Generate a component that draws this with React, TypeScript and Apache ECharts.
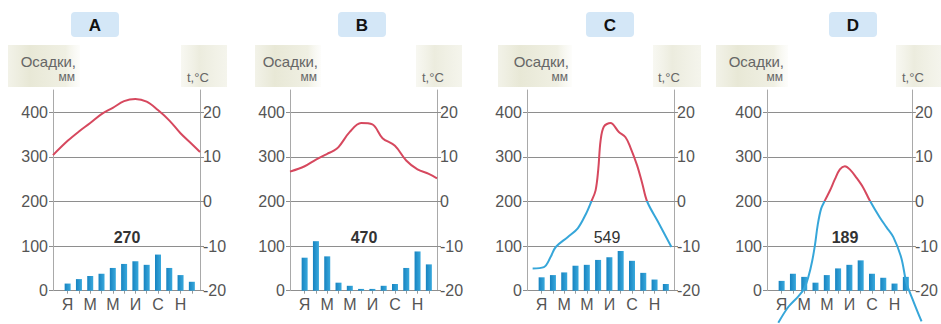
import React, { useEffect, useRef } from "react";
import * as echarts from "echarts";

// ---------- data ----------
const MONTHS = ["Я", "Ф", "М", "А", "М", "И", "И", "А", "С", "О", "Н", "Д"];
const PANEL_NAMES = ["A", "B", "C", "D"];
const TOTALS = ["270", "470", "549", "189"];
const MM_TICKS = [0, 100, 200, 300, 400];
const TEMP_TICKS = [-20, -10, 0, 10, 20];

const PRECIP_A = [16, 26, 33, 38, 51, 60, 66, 58, 81, 51, 35, 20];
const PRECIP_B = [74, 111, 77, 18, 11, 4, 4, 11, 15, 51, 88, 59];
const PRECIP_C = [30, 35, 41, 56, 58, 69, 75, 89, 67, 40, 25, 15];
const PRECIP_D = [22, 38, 31, 18, 35, 50, 58, 68, 38, 29, 16, 31];

// [month position, °C]
const TEMP_A = [
  [-0.3, 10.4], [1, 13.6], [2, 15.7], [3, 17.6], [4, 19.6], [5, 21.0], [6, 22.5],
  [7, 23.0], [8, 22.4], [9, 20.5], [10, 18.2], [11, 15.3], [12, 12.9], [12.73, 11.1],
];
const TEMP_B = [
  [-0.3, 6.7], [1, 7.9], [2, 9.4], [3, 10.7], [3.5, 11.3], [4, 12.2], [5, 15.6], [6, 17.6],
  [7, 17.3], [7.9, 14.2], [9, 12.5], [10, 9.2], [11, 7.2], [12, 6.2], [12.73, 5.2],
];
const TEMP_C = [
  [0.2, -15.0], [1.2, -14.7], [1.8, -12.4], [2.25, -10.2], [3.3, -8.0], [4.2, -6.0],
  [4.9, -2.9], [5.4, 0], [5.78, 2.5], [6.02, 7.3], [6.22, 13.6], [6.52, 16.8], [7.1, 17.6],
  [7.84, 15.6], [8.43, 14.4], [8.87, 12.1], [9.46, 8.1], [9.91, 4.1], [10.35, 0],
  [11.3, -4.5], [12.5, -10.2],
];
const TEMP_D = [
  [0.7, -27.2], [1.6, -23.6], [2.5, -21.2], [3.0, -19.5], [3.4, -16.6], [3.7, -13.4],
  [3.95, -9.8], [4.2, -5.2], [4.5, -1.6], [4.85, 0.3], [5.27, 2.4], [5.72, 5.0],
  [6.16, 7.2], [6.6, 7.9], [7.04, 7.2], [7.64, 5.3], [8.23, 3.1], [8.81, 0.2],
  [9.7, -3.6], [10.3, -5.8], [10.9, -8.0], [11.6, -12.6], [12.06, -18.2],
  [12.65, -22.2], [13.4, -26.9],
];

const PRECIP = [PRECIP_A, PRECIP_B, PRECIP_C, PRECIP_D];
const TEMPS = [TEMP_A, TEMP_B, TEMP_C, TEMP_D];

// ---------- layout ----------
const W = 941;
const H = 324;
const PLOT_LEFT = [53, 290, 527, 767];
const PLOT_W = 147;
const PLOT_TOP = 90;
const PLOT_H = 200.7;
const BAR_OFFSET = 9;
const BAR_W = 135.5;
const X_MIN = -0.3;
const X_MAX = 12.73;
const T_MIN = -20;
const T_MAX = 25;
// the temperature line lives in a slightly larger invisible grid (kept inside the canvas)
const LINE_EXTRA_W = 12;
const LINE_T_MIN = -27.4;
const TITLE_CX = [95, 362, 610, 853];
const TOTAL_CX = [127, 364, 607, 845];
const TOTAL_WEIGHT = ["bold", "bold", "normal", "bold"];
const PRECIP_LABEL_RIGHT = [76, 318, 569, 784];
const PRECIP_BOX = [[8, 72], [255, 66], [498, 74], [716, 72]];
const TEMP_LABEL_LEFT = [187, 422, 658, 902];
const TEMP_BOX = [[181, 46], [416, 46], [653, 48], [896, 45]];

const FONT = "'Liberation Sans', Arial, sans-serif";
const LABEL_COLOR = "#555";
const GRID_COLOR = "#8e8e8e";
const FRAME_COLOR = "#a9a9a9";
const RED = "#d6485e";
const BLUE_LINE = "#36a6d9";

function buildOption() {
  const grid: any[] = [];
  const xAxis: any[] = [];
  const yAxis: any[] = [];
  const series: any[] = [];
  const graphic: any[] = [];

  const tPerPx = (T_MAX - T_MIN) / PLOT_H;
  const lineH = (T_MAX - LINE_T_MIN) / tPerPx;
  const lineXMax = X_MIN + ((X_MAX - X_MIN) * (PLOT_W + LINE_EXTRA_W)) / PLOT_W;

  // pixel row of 0 °C, used for the two-colour line
  const zeroY = PLOT_TOP + T_MAX / tPerPx;
  const zeroOff = zeroY / H;
  const lineColor = new echarts.graphic.LinearGradient(
    0, 0, 0, H,
    [
      { offset: 0, color: RED },
      { offset: zeroOff, color: RED },
      { offset: zeroOff, color: BLUE_LINE },
      { offset: 1, color: BLUE_LINE },
    ],
    true
  );

  PLOT_LEFT.forEach((L, i) => {
    const g = 3 * i;
    grid.push({ left: L, top: PLOT_TOP, width: PLOT_W, height: PLOT_H });
    grid.push({ left: L + BAR_OFFSET, top: PLOT_TOP, width: BAR_W, height: PLOT_H });
    grid.push({ left: L, top: PLOT_TOP, width: PLOT_W + LINE_EXTRA_W, height: lineH });

    // x axes: frame grid (hidden), bar grid (months), line grid (hidden)
    xAxis.push({ type: "value", gridIndex: g, min: 0, max: 1, show: false });
    xAxis.push({
      type: "category", gridIndex: g + 1, data: MONTHS, boundaryGap: true,
      axisLine: { show: false },
      axisTick: { show: true, alignWithLabel: true, interval: 0, length: 3, lineStyle: { color: "#999" } },
      axisLabel: { interval: 1, color: LABEL_COLOR, fontSize: 16, fontFamily: FONT, margin: 6 },
    });
    xAxis.push({ type: "value", gridIndex: g + 2, min: X_MIN, max: lineXMax, show: false });

    // y axes: mm (left), °C (right), bar mm (hidden), line °C (hidden)
    yAxis.push({
      type: "value", gridIndex: g, position: "left", min: 0, max: 450, interval: 50,
      axisLine: { show: true, lineStyle: { color: FRAME_COLOR, width: 1 } },
      axisTick: { show: true, length: 4, customValues: MM_TICKS, lineStyle: { color: GRID_COLOR } },
      axisLabel: {
        color: LABEL_COLOR, fontSize: 16, fontFamily: FONT, margin: 5,
        formatter: (v: number) => (MM_TICKS.indexOf(v) >= 0 ? String(v) : ""),
      },
      splitLine: { show: true, lineStyle: { color: GRID_COLOR, width: 1 } },
    });
    yAxis.push({
      type: "value", gridIndex: g, position: "right", min: T_MIN, max: T_MAX, interval: 5,
      axisLine: { show: true, lineStyle: { color: FRAME_COLOR, width: 1 } },
      axisTick: { show: true, length: 4, customValues: TEMP_TICKS, lineStyle: { color: GRID_COLOR } },
      axisLabel: {
        color: LABEL_COLOR, fontSize: 16, fontFamily: FONT, margin: 3,
        formatter: (v: number) => (TEMP_TICKS.indexOf(v) >= 0 ? String(v) : ""),
      },
      splitLine: { show: false },
    });
    yAxis.push({
      type: "value", gridIndex: g + 1, min: 0, max: 450, show: false,
      splitLine: { show: false },
    });
    yAxis.push({
      type: "value", gridIndex: g + 2, min: LINE_T_MIN, max: T_MAX, show: false,
      splitLine: { show: false },
    });

    series.push({
      type: "bar", xAxisIndex: g + 1, yAxisIndex: 4 * i + 2, data: PRECIP[i],
      barWidth: 6, z: 3,
      itemStyle: {
        color: new echarts.graphic.LinearGradient(0, 0, 1, 0, [
          { offset: 0, color: "#1783c0" },
          { offset: 1, color: "#39a9dd" },
        ]),
      },
    });
    series.push({
      type: "line", xAxisIndex: g + 2, yAxisIndex: 4 * i + 3, data: TEMPS[i],
      smooth: 0.35, showSymbol: false, symbol: "none", clip: false, z: 5,
      lineStyle: { width: 2, color: lineColor },
    });

    // title badge
    graphic.push({
      type: "rect", shape: { x: TITLE_CX[i] - 24, y: 12, width: 48, height: 25, r: 4 },
      style: { fill: "#d4e7f7" }, z: 1,
    });
    graphic.push({
      type: "text", x: TITLE_CX[i], y: 25, z: 2,
      style: {
        text: PANEL_NAMES[i], fill: "#111", fontSize: 17, fontWeight: "bold", fontFamily: FONT,
        align: "center", verticalAlign: "middle",
      },
    });
    // header boxes
    const [pbx, pbw] = PRECIP_BOX[i];
    graphic.push({
      type: "rect", shape: { x: pbx, y: 45, width: pbw, height: 42 }, z: 0,
      style: {
        fill: new echarts.graphic.LinearGradient(0, 0, 1, 0, [
          { offset: 0, color: "rgba(232,232,214,0.55)" },
          { offset: 0.3, color: "rgba(232,232,214,1)" },
          { offset: 0.8, color: "rgba(238,238,224,0.9)" },
          { offset: 1, color: "rgba(245,245,236,0.2)" },
        ]),
      },
    });
    const [tbx, tbw] = TEMP_BOX[i];
    graphic.push({
      type: "rect", shape: { x: tbx, y: 45, width: tbw, height: 42 }, z: 0,
      style: {
        fill: new echarts.graphic.LinearGradient(0, 0, 1, 0, [
          { offset: 0, color: "rgba(240,240,228,0.5)" },
          { offset: 0.4, color: "rgba(236,236,222,1)" },
          { offset: 1, color: "rgba(240,240,228,0.7)" },
        ]),
      },
    });
    graphic.push({
      type: "text", x: PRECIP_LABEL_RIGHT[i], y: 61, z: 2,
      style: {
        text: "Осадки,", fill: "#666", fontSize: 15, fontFamily: FONT,
        align: "right", verticalAlign: "middle",
      },
    });
    graphic.push({
      type: "text", x: PRECIP_LABEL_RIGHT[i] - 1, y: 77, z: 2,
      style: {
        text: "мм", fill: "#666", fontSize: 12, fontFamily: FONT,
        align: "right", verticalAlign: "middle",
      },
    });
    graphic.push({
      type: "text", x: TEMP_LABEL_LEFT[i], y: 77, z: 2,
      style: {
        text: "t,°C", fill: "#666", fontSize: 13, fontFamily: FONT,
        align: "left", verticalAlign: "middle",
      },
    });
    graphic.push({
      type: "text", x: TOTAL_CX[i], y: 237, z: 10,
      style: {
        text: TOTALS[i], fill: "#333", fontSize: 16, fontWeight: TOTAL_WEIGHT[i], fontFamily: FONT,
        align: "center", verticalAlign: "middle",
      },
    });
  });

  return {
    animation: false,
    backgroundColor: "#fff",
    grid,
    xAxis,
    yAxis,
    series,
    graphic,
  };
}

export default function App() {
  const ref = useRef<HTMLDivElement>(null);
  useEffect(() => {
    if (!ref.current) return;
    const chart = echarts.init(ref.current, undefined, { renderer: "svg" });
    chart.setOption(buildOption() as any);
    return () => chart.dispose();
  }, []);
  return (
    <div
      ref={ref}
      style={{ position: "fixed", left: 0, top: 0, width: W, height: H }}
    />
  );
}
